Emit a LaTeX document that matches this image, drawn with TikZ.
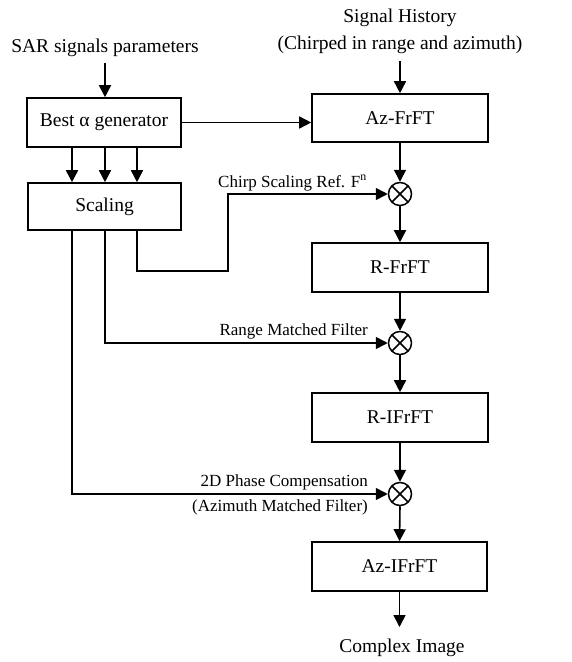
\documentclass[tikz,border=0pt]{standalone}
\usepackage{fontspec}
\setmainfont{Liberation Serif}
\usetikzlibrary{arrows.meta}
\tikzset{
  blk/.style={draw, line width=1.6pt, minimum height=49pt, inner sep=0pt, font=\fontsize{19.5}{22}\selectfont},
  txt/.style={inner sep=0pt, font=\fontsize{19.5}{22}\selectfont},
  lbl/.style={inner sep=0pt, font=\fontsize{17}{20}\selectfont},
  mul/.style={draw, circle, line width=1.5pt, minimum size=23pt, inner sep=0pt},
  arr/.style={line width=1.6pt, -{Triangle[length=12pt,width=12pt]}},
  ln/.style={line width=1.5pt}
}
\begin{document}
\begin{tikzpicture}[x=1pt,y=-1pt]
\useasboundingbox (0,0) rectangle (571,662);
% text nodes
\node[txt] (sar) at (105,48) {SAR signals parameters};
\node[txt, align=center, font=\fontsize{19.5}{27}\selectfont] (sig) at (400,31.5) {Signal History\\(Chirped in range and azimuth)};
\node[txt] (out) at (402,648) {Complex Image};
% boxes
\node[blk, minimum width=154pt] (best) at (104,122.5) {Best α generator};
\node[blk, minimum width=176pt, minimum height=48pt] (az) at (400,118) {Az-FrFT};
\node[blk, minimum width=153pt, minimum height=47pt] (scal) at (104.5,206.5) {Scaling};
\node[blk, minimum width=176pt] (rf) at (400,267.5) {R-FrFT};
\node[blk, minimum width=176pt] (rif) at (400,417.5) {R-IFrFT};
\node[blk, minimum width=175pt] (azi) at (399.5,566.5) {Az-IFrFT};
% multipliers
\foreach \n/\yy in {m1/194, m2/343, m3/494}{
  \node[mul] (\n) at (400,\yy) {};
  \draw[ln] ([shift={(-45:11.5pt)}]\n.center) -- ([shift={(135:11.5pt)}]\n.center);
  \draw[ln] ([shift={(45:11.5pt)}]\n.center) -- ([shift={(-135:11.5pt)}]\n.center);
}
% main chain
\draw[arr] ([yshift=-6pt]sar.south) -- (sar.south |- best.north);
\draw[arr] ([yshift=-7pt]sig.south) -- (az.north);
\draw[arr] (best.east) -- (best.east -| az.west);
\foreach \xx in {72,105,137}{
  \draw[arr] (best.south -| \xx,0) -- (scal.north -| \xx,0);
}
\draw[arr] (az.south) -- (m1.north);
\draw[arr] (m1.south) -- (rf.north);
\draw[arr] (rf.south) -- (m2.north);
\draw[arr] (m2.south) -- (rif.north);
\draw[arr] (rif.south) -- (m3.north);
\draw[arr] (m3.south) -- (azi.north);
\draw[arr] (azi.south) -- (azi.south |- 0,627);
% scaling outputs
\coordinate (c1) at (137,271);
\coordinate (c2) at (228,194);
\draw[arr] (scal.south -| c1) -- (c1) -- (c1 -| c2) -- (c2) -- (m1.west);
\node[lbl, anchor=south east] (l1) at (367,191) {Chirp Scaling Ref. F\textsuperscript{n}};
\coordinate (c3) at (105,343);
\draw[arr] (scal.south -| c3) -- (c3) -- (m2.west);
\node[lbl, anchor=south east] (l2) at (368,339) {Range Matched Filter};
\coordinate (c4) at (72,494);
\draw[arr] (scal.south -| c4) -- (c4) -- (m3.west);
\node[lbl, anchor=south east] (l3) at (368,490) {2D Phase Compensation};
\node[lbl, anchor=north east] (l4) at (368,499) {(Azimuth Matched Filter)};
\end{tikzpicture}
\end{document}
